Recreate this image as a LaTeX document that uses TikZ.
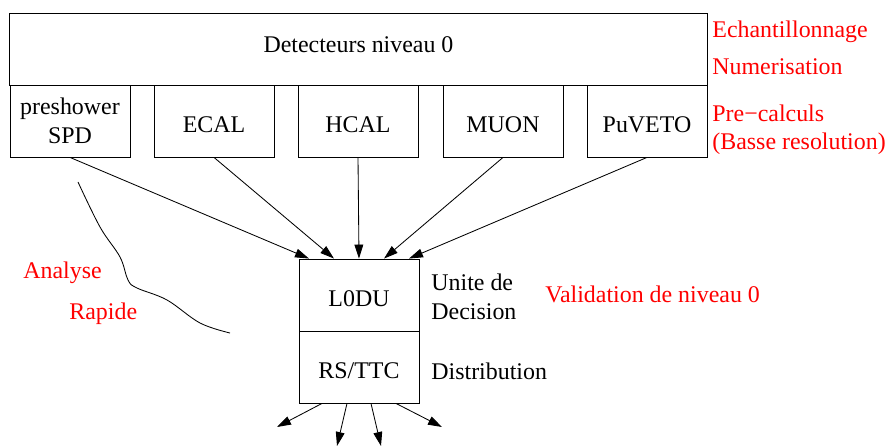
\documentclass[tikz,border=0pt]{standalone}
\usepackage{fontspec}
\setmainfont{Liberation Serif}
\usetikzlibrary{arrows.meta,calc}

\begin{document}
\begin{tikzpicture}[x=0.025cm,y=0.025cm,line width=0.6pt,
  texto/.style={font=\fontsize{17}{21}\selectfont},
  caixa/.style={texto,draw,minimum width=3cm,minimum height=1.8cm,align=center},
  simples/.style={caixa,text height=16.5pt,text depth=0pt},
  seta/.style={-{Triangle[length=3.5mm,width=2.2mm]}},
  legenda/.style={texto,anchor=base west,inner sep=0pt},
  nota/.style={legenda,text=red}] %estilos das caixas, setas e textos

\useasboundingbox (0,0) rectangle (888,446);

%Caixa larga do topo e as cinco caixas dos sub-detectores, posicionadas pelas coordenadas (x,y) dos seus centros
%---------------------------------------------------
\node[caixa,minimum width=17.425cm,text height=5.6pt,text depth=0pt] (det) at (358.5,397) {Detecteurs niveau 0};
\node[caixa] (pre) at (70,325) {preshower\\SPD};
\node[simples] (ecal) at (214,325) {ECAL};
\node[simples] (hcal) at (358,325) {HCAL};
\node[simples] (muon) at (503,325) {MUON};
\node[simples] (puveto) at (647,325) {PuVETO};
%---------------------------------------------------

%Unidade de decisao (L0DU) e distribuicao (RS/TTC), uma sobre a outra
%---------------------------------------------------
\node[simples] (l0du) at (359,151) {L0DU};
\node[simples] (rsttc) at (359,79) {RS/TTC};
%---------------------------------------------------

%Setas dos sub-detectores ate a L0DU
%---------------------------------------------------
\draw[seta] (pre.south) -- ($(l0du.north)+(-50,0)$);
\draw[seta] (ecal.south) -- ($(l0du.north)+(-25,0)$);
\draw[seta] (hcal.south) -- (l0du.north);
\draw[seta] (muon.south) -- ($(l0du.north)+(25,0)$);
\draw[seta] (puveto.south) -- ($(l0du.north)+(50,0)$);
%---------------------------------------------------

%Setas de saida do RS/TTC; as pontas livres sao coordenadas nomeadas
%---------------------------------------------------
\coordinate (s1) at (277,19);
\coordinate (s2) at (337,0);
\coordinate (s3) at (381,0);
\coordinate (s4) at (442,19);
\draw[seta] ($(rsttc.south)+(-37,0)$) -- (s1);
\draw[seta] ($(rsttc.south)+(-12,0)$) -- (s2);
\draw[seta] ($(rsttc.south)+(12,0)$) -- (s3);
\draw[seta] ($(rsttc.south)+(37,0)$) -- (s4);
%---------------------------------------------------

%Curva livre ao lado de "Analyse Rapide"
%---------------------------------------------------
\draw plot[smooth,tension=0.6] coordinates {(78,264) (100,219) (120,189) (128,166) (137,158) (167,146) (200,123) (230,113)};
%---------------------------------------------------

%Textos em vermelho e em preto ao lado das caixas
%---------------------------------------------------
\node[nota] (ech) at (712,408) {Echantillonnage};
\node[nota] (num) at (712,371) {Numerisation};
\node[nota] (prec) at (712,324) {Pre−calculs};
\node[nota] (basse) at (712,296) {(Basse resolution)};
\node[nota] (ana) at (23,167) {Analyse};
\node[nota] (rap) at (69,126) {Rapide};
\node[nota] (val) at (545,143) {Validation de niveau 0};
\node[legenda] (unite) at (431,155) {Unite de};
\node[legenda] (dec) at (431,126) {Decision};
\node[legenda] (dist) at (431,66) {Distribution};
%---------------------------------------------------

\end{tikzpicture}
\end{document}
